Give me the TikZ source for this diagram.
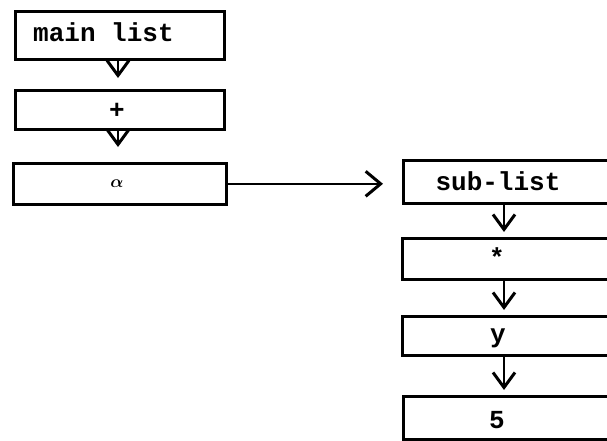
\documentclass[tikz,border=0pt]{standalone}
\usepackage{fontspec}
\setmonofont{Liberation Mono}
\usetikzlibrary{arrows.meta}
\begin{document}
\begin{tikzpicture}[x=1pt,y=-1pt,
  box/.style={draw=black, line width=2.6pt, rectangle, inner sep=0pt, fill=white},
  lbl/.style={font=\fontsize{26}{26}\selectfont\ttfamily\bfseries, inner sep=0pt, anchor=base},
  arr/.style={line width=2.6pt, -{Straight Barb[length=15pt,width=22pt,line width=3pt]}},
  harr/.style={line width=2.2pt, -{Straight Barb[length=15pt,width=25pt,line width=3pt]}}]
\useasboundingbox (0,0) rectangle (607,440);
\begin{scope}
\clip (0,0) rectangle (607,440);
% left list
\node[box, minimum width=209pt, minimum height=48pt, anchor=north west] (m) at (14,10) {};
\node[lbl, anchor=base west] (mt) at (33,41) {main list};
\node[box, minimum width=209pt, minimum height=39pt, anchor=north west] (p) at (14,89) {};
\node[lbl] (pt) at (117,118) {+};
\node[box, minimum width=213pt, minimum height=41pt, anchor=north west] (a) at (12,162) {};
\node[font=\fontsize{16}{16}\selectfont\boldmath, inner sep=0pt] (at) at (117,184) {$\alpha$};
% right list
\node[box, minimum width=240pt, minimum height=43pt, anchor=north west] (s) at (402,159) {};
\node[lbl] (st) at (498,190) {sub-list};
\node[box, minimum width=240pt, minimum height=41pt, anchor=north west] (st2) at (401,237) {};
\node[lbl] (stt) at (497,266) {*};
\node[box, minimum width=240pt, minimum height=39pt, anchor=north west] (y) at (401,315) {};
\node[lbl] (yt) at (498,342) {y};
\node[box, minimum width=240pt, minimum height=43pt, anchor=north west] (f) at (402,395) {};
\node[lbl] (ft) at (497,428) {5};
\end{scope}
% connectors
\coordinate (c1) at (118,0);
\coordinate (c2) at (504,0);
\draw[arr, shorten >=11pt] (m.south -| c1) -- (p.north -| c1);
\draw[arr, shorten >=15pt] (p.south -| c1) -- (a.north -| c1);
\draw[harr, shorten >=19pt] (a.east) -- (s.west |- a.east);
\draw[arr, shorten >=5pt] (s.south -| c2) -- (st2.north -| c2);
\draw[arr, shorten >=5pt] (st2.south -| c2) -- (y.north -| c2);
\draw[arr, shorten >=5pt] (y.south -| c2) -- (f.north -| c2);
\end{tikzpicture}
\end{document}
